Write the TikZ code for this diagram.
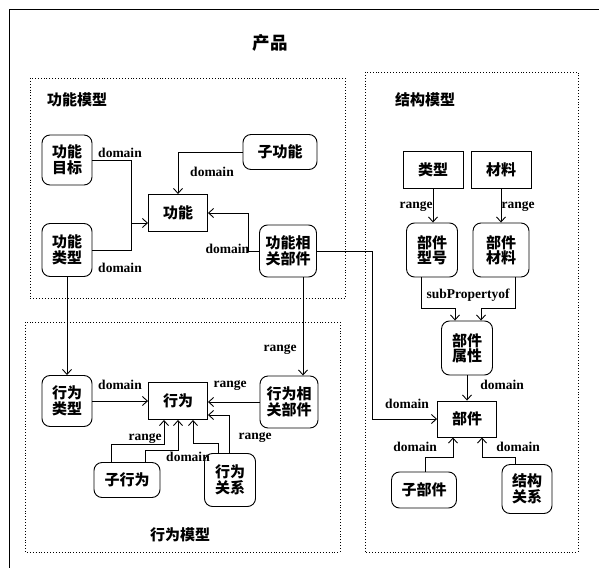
\documentclass[tikz,border=0pt]{standalone}
\usepackage{fontspec}
\setmainfont{Liberation Serif}
\newfontfamily\cjk{Noto Sans CJK SC}
\usetikzlibrary{arrows.meta}
\begin{document}
\begin{tikzpicture}[x=1pt,y=-1pt, line width=0.9pt,
 rbox/.style={draw, rounded corners=8pt, align=center, font=\cjk\bfseries\fontsize{15}{15.5}\selectfont, inner sep=0pt},
 sbox/.style={draw, align=center, font=\cjk\bfseries\fontsize{15}{15.5}\selectfont, inner sep=0pt},
 lbl/.style={font=\bfseries\fontsize{13.5}{14}\selectfont, inner sep=0.5pt},
 zlbl/.style={font=\cjk\bfseries\fontsize{15}{15}\selectfont, inner sep=0pt},
 arr/.style={-{Straight Barb[length=5pt,width=9pt]}},
 zone/.style={draw, dotted, line width=0.9pt}]
\useasboundingbox (0,0) rectangle (599,567);
\clip (0,0) rectangle (599,567);
\draw[line width=1pt] (9,600) -- (9,10) -- (620,10);
\node[font=\cjk\bfseries\fontsize{17.5}{18}\selectfont] (title) at (270,43) {产品};
% zones
\draw[zone] (30,78) rectangle (345,298);
\draw[zone] (365,72) rectangle (578,552);
\draw[zone] (25,322) rectangle (340,552);
\node[zlbl] (zl1) at (77,100) {功能模型};
\node[zlbl] (zl2) at (425,100) {结构模型};
\node[zlbl] (zl3) at (180,535) {行为模型};
% function model
\node[rbox, minimum width=50pt, minimum height=50pt] (fg) at (67,160) {功能\\目标};
\node[rbox, minimum width=50pt, minimum height=53pt] (ft) at (67,250) {功能\\类型};
\node[rbox, minimum width=74pt, minimum height=35pt] (zf) at (280,152) {子功能};
\node[sbox, minimum width=59pt, minimum height=37pt] (f) at (178,213) {功能};
\node[rbox, minimum width=57pt, minimum height=52pt] (fp) at (288,251) {功能相\\关部件};
% behaviour model
\node[rbox, minimum width=50pt, minimum height=51pt] (bt) at (67,401) {行为\\类型};
\node[sbox, minimum width=59pt, minimum height=37pt] (b) at (178,401) {行为};
\node[rbox, minimum width=58pt, minimum height=52pt] (bp) at (289,402) {行为相\\关部件};
\node[rbox, minimum width=66pt, minimum height=35pt] (zb) at (127,480) {子行为};
\node[rbox, minimum width=51pt, minimum height=53pt] (br) at (230,480) {行为\\关系};
% structure model
\node[sbox, minimum width=60pt, minimum height=37pt] (lx) at (433,170) {类型};
\node[sbox, minimum width=60pt, minimum height=37pt] (cl) at (501,170) {材料};
\node[rbox, minimum width=51pt, minimum height=54pt] (bx) at (432,250) {部件\\型号};
\node[rbox, minimum width=56pt, minimum height=54pt] (bc) at (501,250) {部件\\材料};
\node[rbox, minimum width=51pt, minimum height=54pt] (bs) at (467,348) {部件\\属性};
\node[sbox, minimum width=59pt, minimum height=36pt] (bj) at (467,419) {部件};
\node[rbox, minimum width=65pt, minimum height=36pt] (zbj) at (424,490) {子部件};
\node[rbox, minimum width=50pt, minimum height=49pt] (jg) at (527,489) {结构\\关系};
% function edges
\coordinate (j1) at (131,223);
\draw (fg.east) -| (j1);
\draw (ft.east) -| (j1);
\draw[arr] (j1) -- (j1 -| f.west);
\draw[arr] (zf.west) -| (f.north);
\draw[arr] (fp.west) -- ++(-11,0) |- (f.east);
\draw[arr] (fp.east) -| (372,419) -- (bj.west);
\draw[arr] (ft.south) -- (bt.north);
\draw[arr] ([xshift=15pt]fp.south) -- ([xshift=14pt]bp.north);
% behaviour edges
\draw[arr] (bt.east) -- (b.west);
\draw[arr] (bp.west) -- (b.east |- bp.west);
\draw[arr] ([xshift=-1pt]br.north) |- ([yshift=-14pt]b.east);
\draw[arr] ([xshift=-12pt]br.north) -- ++(0,-10) -| ([xshift=15pt]b.south);
\draw[arr] ([xshift=-16pt]zb.north) -- ++(0,-17.5) -| ([xshift=-14pt]b.south);
\draw[arr] ([xshift=18pt]zb.north) -- ++(0,-11.5) -| (b.south);
% structure edges
\draw[arr] (lx.south) -- (lx.south |- bx.north);
\draw[arr] (cl.south) -- (cl.south |- bc.north);
\draw[arr] ([xshift=-11pt]bx.south) -- ++(0,31) -| ([xshift=-12pt]bs.north);
\draw[arr] ([xshift=14pt]bc.south) -- ++(0,31) -| ([xshift=14pt]bs.north);
\draw[arr] (bs.south) -- (bj.north);
\draw[arr] ([xshift=1pt]zbj.north) -- ++(0,-14) -| ([xshift=-14pt]bj.south);
\draw[arr] ([xshift=-12pt]jg.north) -- ++(0,-6.5) -| ([xshift=15pt]bj.south);
% labels
\node[lbl] (l1) at (120,153) {domain};
\node[lbl] (l2) at (120,268) {domain};
\node[lbl] (l3) at (212,172) {domain};
\node[lbl, anchor=east] (l4) at (250,249) {domain};
\node[lbl] (l5) at (407,404) {domain};
\node[lbl] (l6) at (280,350) {range};
\node[lbl] (l7) at (120,385) {domain};
\node[lbl] (l8) at (230,386) {range};
\node[lbl] (l9) at (145,439) {range};
\node[lbl] (l10) at (188,457) {domain};
\node[lbl] (l11) at (255,438) {range};
\node[lbl] (l12) at (416,207) {range};
\node[lbl] (l13) at (518,207) {range};
\node[lbl] (l14) at (468,295) {subPropertyof};
\node[lbl] (l15) at (502,385) {domain};
\node[lbl] (l16) at (415,447) {domain};
\node[lbl] (l17) at (518,447) {domain};
\end{tikzpicture}
\end{document}
